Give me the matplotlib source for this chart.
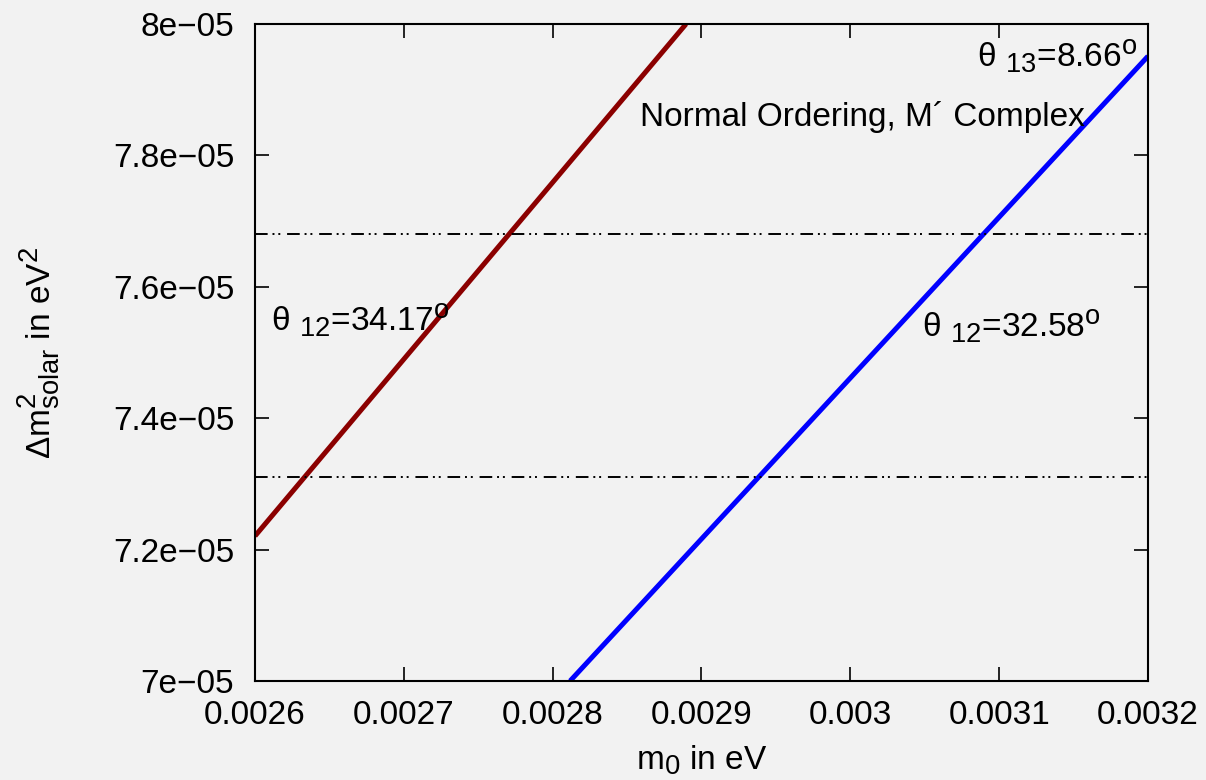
import matplotlib
matplotlib.use('Agg')
import matplotlib.pyplot as plt
import matplotlib._mathtext as mt
from matplotlib.ticker import FixedLocator, FixedFormatter

plt.rcParams['font.family'] = ['Liberation Sans', 'DejaVu Sans']
plt.rcParams['mathtext.fontset'] = 'custom'
plt.rcParams['mathtext.rm'] = 'Liberation Sans'
plt.rcParams['mathtext.it'] = 'Liberation Sans'
plt.rcParams['mathtext.bf'] = 'Liberation Sans:bold'
# 上下标稍大一些
mt.SHRINK_FACTOR = 0.82

# 数据
red_x = [0.0026, 0.0028896]
red_y = [7.2207e-05, 8.0e-05]
blue_x = [0.0028117, 0.0032]
blue_y = [7.0e-05, 7.951e-05]
band_lo = 7.31e-05
band_hi = 7.68e-05

xticks = [0.0026, 0.0027, 0.0028, 0.0029, 0.003, 0.0031, 0.0032]
xticklabels = ['0.0026', '0.0027', '0.0028', '0.0029', '0.003', '0.0031', '0.0032']
yticks = [7.0e-05, 7.2e-05, 7.4e-05, 7.6e-05, 7.8e-05, 8.0e-05]
yticklabels = ['7e\u221205', '7.2e\u221205', '7.4e\u221205', '7.6e\u221205', '7.8e\u221205', '8e\u221205']

BG = '#f2f2f2'
FS = 24

fig = plt.figure(figsize=(12.06, 7.80), dpi=100, facecolor=BG)
ax = fig.add_axes([255 / 1206, 1 - 681 / 780, 893 / 1206, 657 / 780])
ax.set_facecolor(BG)

ax.plot(red_x, red_y, color='#8b0000', lw=3.6, solid_capstyle='butt')
ax.plot(blue_x, blue_y, color='#0000ff', lw=3.6, solid_capstyle='butt')

dash = (0, (6.5, 2.5, 1, 2, 1, 3.5))
ax.axhline(band_hi, color='black', lw=1.4, linestyle=dash)
ax.axhline(band_lo, color='black', lw=1.4, linestyle=dash)

ax.set_xlim(0.0026, 0.0032)
ax.set_ylim(7.0e-05, 8.0e-05)
ax.xaxis.set_major_locator(FixedLocator(xticks))
ax.xaxis.set_major_formatter(FixedFormatter(xticklabels))
ax.yaxis.set_major_locator(FixedLocator(yticks))
ax.yaxis.set_major_formatter(FixedFormatter(yticklabels))
ax.tick_params(direction='in', length=10, width=1.2, top=True, right=True,
               labelsize=FS)
ax.tick_params(axis='x', pad=14)
ax.tick_params(axis='y', pad=15)
for sp in ax.spines.values():
    sp.set_linewidth(1.5)

ax.set_xlabel('m$_0$ in eV', fontsize=FS)
ax.set_ylabel(r'$\Delta$m$^2_{\mathrm{solar}}$ in eV$^2$', fontsize=FS)
ax.xaxis.set_label_coords(0.5, -0.095)
ax.yaxis.set_label_coords(-0.216, 0.5)

ax.text(0.0026108, 7.5327e-05, 'θ $_{12}$=34.17$^{\\rm o}$', fontsize=FS, va='baseline')
ax.text(0.0030482, 7.5236e-05, 'θ $_{12}$=32.58$^{\\rm o}$', fontsize=FS, va='baseline')
ax.text(0.0031926, 7.9346e-05, 'θ $_{13}$=8.66$^{\\rm o}$', fontsize=FS, va='baseline', ha='right')
ax.text(0.0028587, 7.8447e-05, 'Normal Ordering, M\u00b4 Complex', fontsize=FS, va='baseline')

fig.savefig('out.png', dpi=100, facecolor=BG)
